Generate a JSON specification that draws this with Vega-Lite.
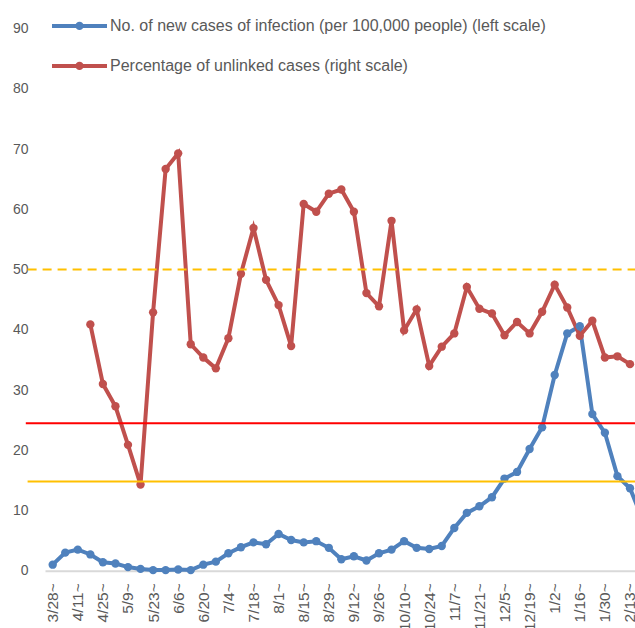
{
  "$schema": "https://vega.github.io/schema/vega-lite/v6.json",
  "width": 590,
  "height": 542,
  "autosize": {"type": "none"},
  "padding": {"left": 45, "top": 28.7, "right": 0, "bottom": 57.3},
  "background": "white",
  "config": {
    "view": {"stroke": null},
    "font": "Liberation Sans",
    "axis": {"labelFont": "Liberation Sans", "labelColor": "#595959", "labelFontSize": 14},
    "axisX": {"labelOverlap": false, "labelFontSize": 15.5}
  },
  "datasets": {
    "weekly": [
      {"date": "2021-03-28", "cases": 1.0, "unlinked": null},
      {"date": "2021-04-04", "cases": 3.0, "unlinked": null},
      {"date": "2021-04-11", "cases": 3.5, "unlinked": null},
      {"date": "2021-04-18", "cases": 2.7, "unlinked": 40.9},
      {"date": "2021-04-25", "cases": 1.4, "unlinked": 31.0},
      {"date": "2021-05-02", "cases": 1.2, "unlinked": 27.3},
      {"date": "2021-05-09", "cases": 0.6, "unlinked": 20.9},
      {"date": "2021-05-16", "cases": 0.3, "unlinked": 14.3},
      {"date": "2021-05-23", "cases": 0.1, "unlinked": 42.9},
      {"date": "2021-05-30", "cases": 0.1, "unlinked": 66.7},
      {"date": "2021-06-06", "cases": 0.2, "unlinked": 69.3},
      {"date": "2021-06-13", "cases": 0.1, "unlinked": 37.6},
      {"date": "2021-06-20", "cases": 1.0, "unlinked": 35.4},
      {"date": "2021-06-27", "cases": 1.5, "unlinked": 33.6},
      {"date": "2021-07-04", "cases": 2.9, "unlinked": 38.6},
      {"date": "2021-07-11", "cases": 3.9, "unlinked": 49.3},
      {"date": "2021-07-18", "cases": 4.7, "unlinked": 56.9},
      {"date": "2021-07-25", "cases": 4.4, "unlinked": 48.3},
      {"date": "2021-08-01", "cases": 6.1, "unlinked": 44.1},
      {"date": "2021-08-08", "cases": 5.1, "unlinked": 37.3},
      {"date": "2021-08-15", "cases": 4.7, "unlinked": 60.9},
      {"date": "2021-08-22", "cases": 4.9, "unlinked": 59.6},
      {"date": "2021-08-29", "cases": 3.8, "unlinked": 62.6},
      {"date": "2021-09-05", "cases": 1.9, "unlinked": 63.3},
      {"date": "2021-09-12", "cases": 2.4, "unlinked": 59.6},
      {"date": "2021-09-19", "cases": 1.7, "unlinked": 46.1},
      {"date": "2021-09-26", "cases": 2.9, "unlinked": 43.9},
      {"date": "2021-10-03", "cases": 3.5, "unlinked": 58.1},
      {"date": "2021-10-10", "cases": 4.9, "unlinked": 39.9},
      {"date": "2021-10-17", "cases": 3.8, "unlinked": 43.4},
      {"date": "2021-10-24", "cases": 3.6, "unlinked": 34.0},
      {"date": "2021-10-31", "cases": 4.1, "unlinked": 37.2},
      {"date": "2021-11-07", "cases": 7.1, "unlinked": 39.4},
      {"date": "2021-11-14", "cases": 9.6, "unlinked": 47.1},
      {"date": "2021-11-21", "cases": 10.7, "unlinked": 43.5},
      {"date": "2021-11-28", "cases": 12.2, "unlinked": 42.7},
      {"date": "2021-12-05", "cases": 15.3, "unlinked": 39.1},
      {"date": "2021-12-12", "cases": 16.4, "unlinked": 41.3},
      {"date": "2021-12-19", "cases": 20.2, "unlinked": 39.4},
      {"date": "2021-12-26", "cases": 23.8, "unlinked": 43.0},
      {"date": "2022-01-02", "cases": 32.5, "unlinked": 47.5},
      {"date": "2022-01-09", "cases": 39.4, "unlinked": 43.7},
      {"date": "2022-01-16", "cases": 40.6, "unlinked": 39.0},
      {"date": "2022-01-23", "cases": 26.0, "unlinked": 41.5},
      {"date": "2022-01-30", "cases": 22.9, "unlinked": 35.4},
      {"date": "2022-02-06", "cases": 15.7, "unlinked": 35.6},
      {"date": "2022-02-13", "cases": 13.7, "unlinked": 34.3},
      {"date": "2022-02-20", "cases": 8.5, "unlinked": null}
    ]
  },
  "layer": [
    {
      "data": {"name": "weekly"},
      "transform": [
        {"fold": ["cases", "unlinked"], "as": ["series", "value"]},
        {"filter": "datum.value != null"}
      ],
      "mark": {"type": "line", "strokeWidth": 4, "clip": false, "point": {"filled": true, "size": 70, "opacity": 1}},
      "encoding": {
        "x": {
          "field": "date", "type": "temporal",
          "scale": {"type": "utc", "domain": [{"year": 2021, "month": 3, "date": 23, "hours": 17, "utc": true}, {"year": 2022, "month": 2, "date": 15, "hours": 19, "utc": true}], "nice": false},
          "axis": {
            "title": null, "grid": false, "ticks": false, "tickCount": 60,
            "domain": true, "domainColor": "#D9D9D9", "domainWidth": 2,
            "labelAngle": 270, "labelPadding": 12, "labelOverlap": false, "labelSeparation": 0, "labelBound": false, "labelFlush": false,
            "labelExpr": "utcFormat(datum.value, '%-m/%-d') + '~'",
            "values": [
              {"year": 2021, "month": 3, "date": 28, "utc": true},
              {"year": 2021, "month": 4, "date": 11, "utc": true},
              {"year": 2021, "month": 4, "date": 25, "utc": true},
              {"year": 2021, "month": 5, "date": 9, "utc": true},
              {"year": 2021, "month": 5, "date": 23, "utc": true},
              {"year": 2021, "month": 6, "date": 6, "utc": true},
              {"year": 2021, "month": 6, "date": 20, "utc": true},
              {"year": 2021, "month": 7, "date": 4, "utc": true},
              {"year": 2021, "month": 7, "date": 18, "utc": true},
              {"year": 2021, "month": 8, "date": 1, "utc": true},
              {"year": 2021, "month": 8, "date": 15, "utc": true},
              {"year": 2021, "month": 8, "date": 29, "utc": true},
              {"year": 2021, "month": 9, "date": 12, "utc": true},
              {"year": 2021, "month": 9, "date": 26, "utc": true},
              {"year": 2021, "month": 10, "date": 10, "utc": true},
              {"year": 2021, "month": 10, "date": 24, "utc": true},
              {"year": 2021, "month": 11, "date": 7, "utc": true},
              {"year": 2021, "month": 11, "date": 21, "utc": true},
              {"year": 2021, "month": 12, "date": 5, "utc": true},
              {"year": 2021, "month": 12, "date": 19, "utc": true},
              {"year": 2022, "month": 1, "date": 2, "utc": true},
              {"year": 2022, "month": 1, "date": 16, "utc": true},
              {"year": 2022, "month": 1, "date": 30, "utc": true},
              {"year": 2022, "month": 2, "date": 13, "utc": true}
            ]
          }
        },
        "y": {
          "field": "value", "type": "quantitative",
          "scale": {"domain": [0, 90], "nice": false},
          "axis": {
            "title": null, "grid": false, "ticks": false, "domain": false, "tickCount": 20,
            "values": [0, 10, 20, 30, 40, 50, 60, 70, 80, 90],
            "labelPadding": 17
          }
        },
        "color": {
          "field": "series", "type": "nominal",
          "scale": {"domain": ["cases", "unlinked"], "range": ["#4F81BD", "#C0504D"]},
          "legend": {
            "orient": "none", "legendX": 5, "legendY": -32.3,
            "title": null, "padding": 0,
            "symbolType": "M-1,0L1,0M0.08,0A0.08,0.08,0,1,1,-0.08,0A0.08,0.08,0,1,1,0.08,0Z",
            "symbolSize": 3025, "symbolStrokeWidth": 4,
            "labelFont": "Liberation Sans", "labelFontSize": 16, "labelColor": "#595959",
            "labelOffset": 1, "rowPadding": -21, "labelLimit": 600,
            "labelExpr": "datum.label == 'cases' ? 'No. of new cases of infection (per 100,000 people) (left scale)' : 'Percentage of unlinked cases (right scale)'",
            "encode": {"symbols": {"update": {"fill": {"scale": "color", "field": "value"}, "stroke": {"scale": "color", "field": "value"}, "opacity": {"value": 1}}}}
          }
        }
      }
    },
    {
      "data": {"values": [{"level": 50}]},
      "mark": {"type": "rule", "color": "#FFC000", "strokeWidth": 2, "strokeDash": [9, 6], "clip": false},
      "encoding": {
        "y": {"field": "level", "type": "quantitative"},
        "x": {"datum": {"year": 2021, "month": 3, "date": 14, "utc": true}, "type": "temporal"},
        "x2": {"datum": {"year": 2022, "month": 3, "date": 20, "utc": true}}
      }
    },
    {
      "data": {"values": [{"level": 24.5}]},
      "mark": {"type": "rule", "color": "#FF0000", "strokeWidth": 2, "clip": false},
      "encoding": {
        "y": {"field": "level", "type": "quantitative"},
        "x": {"datum": {"year": 2021, "month": 3, "date": 13, "utc": true}, "type": "temporal"},
        "x2": {"datum": {"year": 2022, "month": 3, "date": 20, "utc": true}}
      }
    },
    {
      "data": {"values": [{"level": 14.8}]},
      "mark": {"type": "rule", "color": "#FFC000", "strokeWidth": 2, "clip": false},
      "encoding": {
        "y": {"field": "level", "type": "quantitative"},
        "x": {"datum": {"year": 2021, "month": 3, "date": 14, "utc": true}, "type": "temporal"},
        "x2": {"datum": {"year": 2022, "month": 3, "date": 20, "utc": true}}
      }
    }
  ]
}
